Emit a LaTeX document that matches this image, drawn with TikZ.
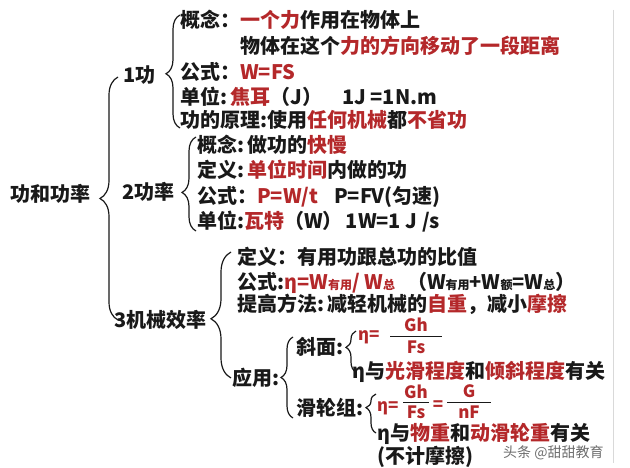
\documentclass[tikz,border=0pt]{standalone}
\usepackage{fontspec}
\setmainfont{Noto Sans CJK SC}
\usetikzlibrary{decorations.pathreplacing}
\definecolor{tred}{RGB}{180,40,42}
\definecolor{tblack}{RGB}{25,25,25}
\definecolor{wmgray}{RGB}{110,110,110}
\newcommand{\rd}[1]{\textcolor{tred}{#1}}
\newcommand{\sbs}[1]{\raisebox{-1pt}{\fontsize{12}{12}\selectfont #1}}
\begin{document}
\begin{tikzpicture}[x=1pt,y=-1pt,
  txt/.style={font=\fontsize{20}{23}\selectfont\bfseries, text=tblack, inner sep=0pt, anchor=base west},
  frac/.style={font=\fontsize{17}{19}\selectfont\bfseries, text=tred, inner sep=0pt, anchor=base},
  fbar/.style={draw=tblack, line width=1pt},
  brc/.style 2 args={draw=tblack, line width=1.2pt, decorate, decoration={brace, amplitude=#1, aspect=#2}},
  wm/.style={font=\fontsize{14}{16}\selectfont, text=wmgray, inner sep=0pt, anchor=base west}]
\fill[white] (0,0) rectangle (630,468);
\draw[black!15, line width=1pt] (613,10) -- (613,463);

% level 0
\node[txt, anchor=base] (root) at (50,202) {功和功率};
% big brace
\coordinate (B0b) at (118,320);
\coordinate (B0t) at (118,77);
\draw[brc={18pt}{0.5}] (B0b) -- (B0t);

% 1 work
\node[txt] (w) at (123,83) {1功};
\coordinate (B1b) at (180,128);
\coordinate (B1t) at (180,15);
\draw[brc={14pt}{0.48}] (B1b) -- (B1t);
\node[txt] (a1) at (180,28) {概念：\rd{一个力}作用在物体上};
\node[txt] (a2) at (240,54) {物体在这个\rd{力的方向移动了一段距离}};
\node[txt] (a3) at (180,80) {公式：\rd{W=FS}};
\node[txt] (a4) at (180,105) {单位:\,\rd{焦耳}（J）\hspace{20pt}1J =1N.m};
\node[txt] (a5) at (180,128) {功的原理:使用\rd{任何机械}都\rd{不省功}};

% 2 power
\node[txt] (p) at (122,200) {2功率};
\coordinate (B2b) at (196,231);
\coordinate (B2t) at (196,137);
\draw[brc={14pt}{0.41}] (B2b) -- (B2t);
\node[txt] (b1) at (197,153) {概念:\,做功的\rd{快慢}};
\node[txt] (b2) at (197,178) {定义:\,\rd{单位时间}内做的功};
\node[txt] (b3) at (197,204) {公式：\rd{P=W/t}\hspace{16pt}P=FV(匀速)};
\node[txt] (b4) at (197,229) {单位:\rd{瓦特}（W）\hspace{3pt}1W=1 J /s};

% 3 efficiency
\node[txt] (e) at (114,327) {3机械效率};
\coordinate (B3b) at (231,378);
\coordinate (B3t) at (231,252);
\draw[brc={20pt}{0.47}] (B3b) -- (B3t);
\node[txt] (c1) at (237,265) {定义：有用功跟总功的比值};
\node[txt] (c2) at (237,289) {公式:\rd{η=W\sbs{有用}/ W\sbs{总}}\hspace{12pt}（W\sbs{有用}+W\sbs{额}=W\sbs{总}）};
\node[txt] (c3) at (237,312) {提高方法:\,减轻机械的\rd{自重}，减小\rd{摩擦}};

% application
\node[txt] (u) at (232,385) {应用:};
\coordinate (B4b) at (293,418);
\coordinate (B4t) at (293,337);
\draw[brc={12pt}{0.5}] (B4b) -- (B4t);

\node[txt] (s) at (296,354) {斜面:};
\coordinate (B5b) at (356,372);
\coordinate (B5t) at (356,331);
\draw[brc={10pt}{0.6}] (B5b) -- (B5t);
\node[txt, font=\fontsize{17}{19}\selectfont\bfseries, text=tred] (s1) at (358,340) {η=};
\node[frac] (s1n) at (416,331) {Gh};
\node[frac] (s1d) at (416,353) {Fs};
\draw[fbar] (390,336) -- (442,336);
\node[txt] (s2) at (352,378) {η与\rd{光滑程度}和\rd{倾斜程度}有关};

\node[txt] (g) at (296,415) {滑轮组:};
\coordinate (B6b) at (376,433);
\coordinate (B6t) at (376,394);
\draw[brc={10pt}{0.65}] (B6b) -- (B6t);
\node[txt, font=\fontsize{17}{19}\selectfont\bfseries, text=tred] (g1) at (377,411) {η=};
\node[frac] (g1n) at (416,398) {Gh};
\node[frac] (g1d) at (416,418) {Fs};
\draw[fbar] (403,402) -- (429,402);
\node[frac] (g1e) at (438,410) {=};
\node[frac] (g1n2) at (469,397) {G};
\node[frac] (g1d2) at (469,418) {nF};
\draw[fbar] (447,402) -- (491,402);
\node[txt] (g2) at (377,440) {η与\rd{物重}和\rd{动滑轮重}有关};
\node[txt] (g3) at (377,463) {(不计摩擦)};

\node[wm] (wmk) at (503,457) {头条 @甜甜教育};
\end{tikzpicture}
\end{document}
